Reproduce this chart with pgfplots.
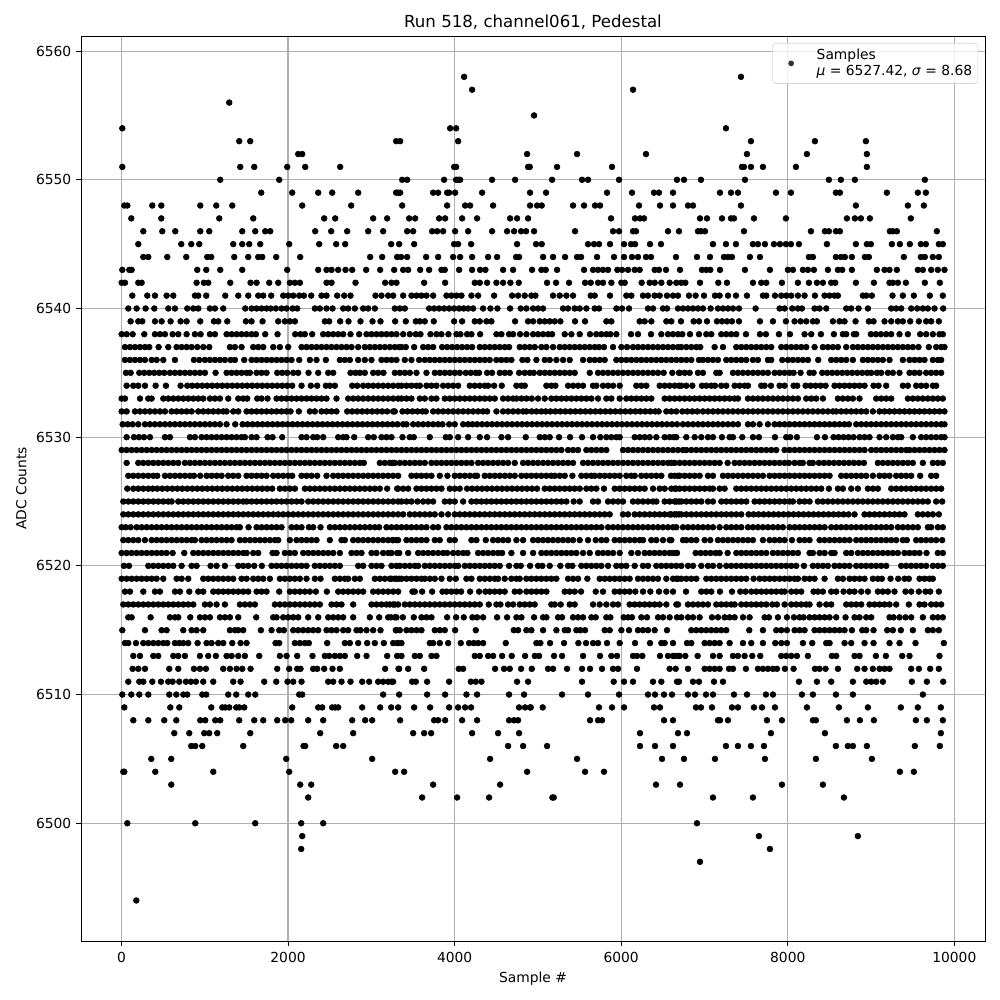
\documentclass[border=0pt]{standalone}
\usepackage{pgfplots}
\pgfplotsset{compat=1.18}
\usepackage{fontspec}
\setmainfont{DejaVu Sans}
\pgfplotsset{table/header=false,table/x index=0,
 r/.style={only marks,mark=*,mark size=2.1pt,mark options={fill=black,draw=none},forget plot}}
\begin{document}
\begin{tikzpicture}
\useasboundingbox (-58.54pt,-42.64pt) rectangle (664.15pt,680.06pt);
\begin{axis}[
 at={(0,0)},anchor=south west,scale only axis,width=653.3pt,height=654pt,
 xmin=-486,xmax=10368,ymin=6490.85,ymax=6561.17,
 xtick={0,2000,4000,6000,8000,10000},ytick={6500,6510,6520,6530,6540,6550,6560},
 scaled x ticks=false,scaled y ticks=false,
 /pgf/number format/assume math mode=true,/pgf/number format/1000 sep={},
 tick label style={font=\fontsize{10}{12}\selectfont},
 xticklabel style={yshift=-1pt},
 tick style={black,line width=0.6pt},major tick length=3.5pt,tick align=outside,tickpos=left,
 axis line style={line width=0.6pt},
 grid=major,grid style={color=black!31,line width=0.8pt},
 title={Run 518, channel061, Pedestal},title style={font=\fontsize{12}{14}\selectfont,yshift=-4.6pt},
 xlabel={Sample \#},ylabel={ADC Counts},
 label style={font=\fontsize{10}{12}\selectfont},
 legend style={at={(1,1)},anchor=north east,xshift=-5pt,yshift=-5pt,draw=black!20,fill=white,fill opacity=0.8,draw opacity=0.8,text opacity=1,rounded corners=2pt,font=\fontsize{10}{12}\selectfont,nodes={align=left},inner sep=2pt},
 legend cell align=left,
 legend image code/.code={\fill[black,draw=none] (0.4cm,0cm) circle (2.1pt);\path[draw=none] (0,0) -- (0.98cm,0);},
]
\addplot[only marks,mark=*,mark size=2.1pt,mark options={fill=black,draw=none}] table[y expr=6494] {
178
};
\addlegendentry{Samples\\\textit{μ} = 6527.42, \textit{σ} = 8.68\rule[-6pt]{0pt}{6pt}}
\addplot[r] table[y expr=6558] {
4114
7438
};
\addplot[r] table[y expr=6557] {
4210
6142
};
\addplot[r] table[y expr=6556] {
1294
};
\addplot[r] table[y expr=6555] {
4954
};
\addplot[r] table[y expr=6554] {
10
3946
4018
7258
};
\addplot[r] table[y expr=6553] {
1414
1546
3298
3346
4042
7558
8326
8938
};
\addplot[r] table[y expr=6552] {
2122
2170
4870
5470
6298
7510
8230
8950
};
\addplot[r] table[y expr=6551] {
10
1426
1594
1990
2206
2626
3994
4018
4882
4902
5230
5890
7450
7474
7558
7702
8098
8950
};
\addplot[r] table[y expr=6550] {
1186
1894
3370
3430
3874
4018
4042
4066
4450
4726
5170
5530
5602
5974
6670
6754
6958
7486
8494
8638
8806
9646
};
\addplot[r] table[y expr=6549] {
1678
2050
2362
2530
2842
3298
3322
3346
3742
3802
3910
3934
4006
4330
4906
5098
5830
6130
6394
6454
6622
7186
7318
7402
7858
8038
8578
8626
9190
9562
9658
};
\addplot[r] table[y expr=6548] {
34
70
370
478
946
1138
1330
2170
2758
3370
3910
4126
4186
4462
4906
4990
5046
5422
5554
5686
5746
6214
6466
6622
6802
6862
7438
8818
9442
9634
};
\addplot[r] table[y expr=6547] {
118
478
1174
1582
2434
2566
3022
3190
3454
3526
3814
3886
4090
4270
4666
4750
4882
5878
6166
6226
6274
6946
7030
7210
7318
7354
7594
7978
8710
8806
8878
8986
9478
};
\addplot[r] table[y expr=6546] {
262
490
646
946
1054
1450
1606
1726
1786
2326
2518
2710
2962
3142
3430
3502
3730
3790
3862
4006
4162
4450
4630
4714
4798
4858
4954
5446
5902
5974
6142
6178
6562
6694
6922
6958
7006
7474
8278
8446
8494
8578
8626
9226
9262
9310
9790
};
\addplot[r] table[y expr=6545] {
202
718
838
934
1342
1450
1534
1666
2014
2374
2578
2686
3238
3334
3514
3994
4042
4198
4750
4978
5046
5602
5674
5734
5866
6034
6118
6166
6346
6478
7102
7258
7378
7582
7642
7726
7834
7906
7978
8038
8134
8470
8818
8950
8998
9250
9346
9466
9598
9658
9814
9862
};
\addplot[r] table[y expr=6544] {
262
322
550
778
1030
1078
1354
1522
1642
1690
1858
2146
2986
3130
3310
3358
3430
3658
3802
3982
4066
4210
4402
4510
4738
4774
5062
5182
5326
5470
5518
5710
5914
6034
6130
6202
6298
6358
6658
6910
7066
7234
7282
7330
7546
7666
8254
8302
8578
8638
8686
8770
8926
8974
9394
9598
9646
9742
9814
};
\addplot[r] table[y expr=6543] {
10
94
122
910
1018
1186
1450
1990
2362
2462
2522
2602
2690
2770
2938
3106
3274
3382
3442
3586
3694
3842
3882
4054
4210
4306
4370
4582
4702
4930
5042
5094
5230
5554
5662
5722
5782
5842
5954
6010
6082
6162
6222
6402
6454
6538
6706
6970
7022
7070
7186
7486
7786
8002
8062
8182
8242
8314
8482
8602
8654
8770
9070
9162
9222
9310
9562
9622
9722
9802
9882
};
\addplot[r] table[y expr=6542] {
2
42
202
242
902
990
1042
1306
1550
1622
1774
1882
2022
2082
2142
2462
2522
2810
3166
3242
3302
3634
3886
4242
4302
4390
4502
4582
4670
4770
5110
5218
5374
5566
5634
5722
5782
5882
6002
6042
6246
6342
6402
6482
6582
6662
6722
6770
6946
7166
7270
7582
7682
7742
7930
8122
8254
8350
8422
8522
8570
8818
9034
9222
9262
9322
9418
9646
9826
};
\addplot[r] table[y expr=6541] {
130
310
402
542
622
882
922
1018
1246
1402
1522
1642
1702
1798
1942
2002
2062
2134
2190
2278
2402
2462
2590
2674
2750
3050
3122
3202
3262
3382
3482
3542
3602
3662
3742
3902
3962
4022
4082
4202
4282
4474
4690
4762
4842
4922
4970
5182
5262
5342
5422
5634
5682
5866
6062
6122
6262
6322
6402
6462
6550
6622
6682
6814
6894
6994
7126
7182
7282
7378
7510
7702
7742
7846
7922
7982
8042
8122
8202
8326
8442
8502
8562
8602
8902
8942
9010
9258
9382
9514
9706
9862
};
\addplot[r] table[y expr=6540] {
82
182
290
394
562
642
790
862
922
1062
1122
1222
1486
1562
1622
1682
1742
1790
1854
1922
1982
2054
2110
2322
2382
2462
2534
2662
2722
2802
2902
2962
3042
3282
3342
3402
3694
3754
3814
3874
3934
3994
4054
4110
4162
4222
4342
4430
4514
4666
4794
4862
4942
5002
5062
5302
5362
5442
5502
5582
5682
5734
5942
6010
6094
6322
6382
6502
6550
6682
6742
6802
6862
6922
6982
7074
7162
7222
7282
7342
7414
7614
7902
7962
8054
8122
8170
8322
8382
8462
8702
8762
8850
8962
9242
9302
9362
9482
9554
9622
9682
9762
9866
};
\addplot[r] table[y expr=6539] {
110
202
250
402
482
590
710
782
946
1110
1162
1270
1494
1562
1694
1882
1962
2022
2082
2442
2494
2626
2726
2870
3014
3110
3286
3414
3534
3582
3642
3750
3994
4090
4242
4302
4382
4442
4726
4882
4942
5022
5082
5142
5202
5270
5446
5566
5822
5882
6222
6282
6362
6542
6602
6718
6870
6934
7030
7150
7210
7270
7330
7414
7666
7822
7978
8082
8154
8222
8302
8350
8542
8622
8682
8814
8974
9030
9162
9242
9322
9382
9470
9574
9662
9722
9814
};
\addplot[r] table[y expr=6538] {
2
62
134
274
402
462
522
614
682
782
882
950
1062
1122
1262
1322
1382
1442
1502
1562
1614
1726
1874
2086
2150
2202
2290
2422
2482
2542
2602
2662
2750
2854
2942
3002
3062
3122
3182
3242
3302
3382
3462
3534
3590
3710
3782
3842
3926
4022
4070
4150
4202
4306
4502
4562
4654
4702
4786
4862
4942
5002
5062
5122
5170
5322
5402
5502
5626
5702
5762
5822
5870
5942
6118
6202
6358
6482
6562
6622
6682
6734
6826
6934
7022
7082
7202
7262
7322
7382
7498
7666
7738
7894
8026
8202
8282
8398
8554
8662
8702
8794
8822
8998
9058
9118
9182
9242
9342
9442
9590
9662
9742
9822
9862
};
\addplot[r] table[y expr=6537] {
42
102
162
222
282
334
446
562
662
722
782
842
910
982
1054
1302
1362
1442
1582
1642
1702
1822
1902
2002
2162
2222
2282
2342
2402
2462
2522
2582
2642
2702
2762
2842
2922
2982
3042
3102
3162
3222
3282
3334
3362
3414
3514
3622
3682
3742
3850
3910
3970
4030
4090
4150
4210
4302
4362
4422
4482
4542
4602
4654
4782
4842
4902
4962
5042
5102
5182
5262
5322
5382
5442
5502
5562
5622
5682
5734
5794
5902
6002
6070
6142
6202
6262
6322
6382
6442
6502
6562
6622
6682
6722
6782
6842
6902
6950
7122
7222
7382
7442
7502
7562
7622
7682
7742
7802
7922
7982
8042
8102
8162
8222
8322
8422
8482
8542
8602
8702
8782
8842
8902
8962
9022
9082
9142
9202
9262
9322
9382
9442
9502
9570
9694
9782
9842
9882
};
\addplot[r] table[y expr=6536] {
42
102
162
222
282
362
422
502
642
870
934
1002
1062
1122
1182
1242
1310
1362
1474
1562
1622
1682
1742
1802
1862
1922
1982
2042
2134
2262
2342
2454
2622
2682
2742
2842
2922
3002
3122
3182
3242
3302
3402
3482
3574
3642
3702
3762
3822
3882
3942
4002
4062
4122
4182
4242
4302
4362
4422
4502
4562
4622
4682
4814
4874
4982
5082
5142
5222
5302
5382
5542
5622
5682
5742
5802
5942
6002
6062
6122
6182
6242
6302
6362
6422
6482
6542
6602
6662
6722
6782
6842
6934
6982
7042
7102
7162
7262
7322
7382
7442
7502
7582
7642
7762
7802
7934
8002
8062
8122
8182
8242
8366
8522
8582
8642
8702
8782
8902
8962
9022
9082
9142
9222
9382
9462
9522
9582
9642
9742
9802
9842
};
\addplot[r] table[y expr=6535] {
54
110
214
274
334
394
454
514
582
642
702
762
822
882
942
1002
1130
1262
1322
1382
1442
1502
1542
1622
1682
1742
1870
1930
1990
2062
2122
2246
2362
2482
2542
2750
2810
2862
2922
3022
3082
3146
3282
3342
3402
3462
3542
3662
3762
3822
3882
3942
4002
4062
4134
4194
4254
4294
4390
4450
4542
4602
4662
4774
4842
4902
4950
5022
5082
5142
5202
5262
5322
5382
5442
5622
5722
5782
5842
5902
5962
6022
6082
6142
6202
6262
6322
6382
6442
6510
6614
6694
6702
6762
6822
6922
6982
7142
7182
7342
7402
7462
7522
7582
7642
7702
7762
7842
7902
7962
8022
8070
8154
8262
8310
8414
8474
8534
8594
8654
8714
8774
8834
8894
8954
9002
9070
9122
9202
9262
9342
9462
9522
9582
9662
9722
9782
9842
};
\addplot[r] table[y expr=6534] {
62
142
202
282
410
534
710
790
850
910
970
1030
1090
1150
1210
1270
1330
1390
1450
1510
1570
1630
1690
1750
1810
1870
1930
1990
2050
2162
2274
2350
2454
2502
2562
2770
2830
2902
2962
3022
3082
3142
3202
3262
3322
3362
3422
3482
3542
3582
3662
3722
3782
3862
3922
3982
4042
4182
4242
4302
4362
4402
4474
4566
4742
4802
4842
5102
5162
5210
5362
5422
5482
5542
5662
5702
5782
5842
5902
5982
6182
6242
6302
6462
6522
6582
6642
6694
6722
6782
6854
6970
7022
7082
7126
7202
7262
7362
7422
7482
7522
7682
7722
7798
7902
7962
8070
8114
8214
8274
8334
8394
8454
8562
8622
8682
8742
8802
8862
8922
9030
9090
9182
9382
9442
9542
9602
9662
9742
9782
};
\addplot[r] table[y expr=6533] {
2
42
222
322
362
502
562
622
682
742
802
862
922
982
1062
1122
1182
1282
1402
1462
1510
1630
1682
1754
1862
1922
1982
2042
2102
2162
2222
2282
2342
2402
2462
2582
2722
2782
2842
2902
2962
3022
3082
3142
3202
3262
3322
3362
3422
3482
3582
3642
3722
3782
3882
3942
4002
4062
4122
4182
4242
4302
4362
4422
4482
4582
4642
4702
4742
4802
4862
4926
5002
5082
5162
5222
5282
5342
5402
5462
5522
5582
5642
5722
5822
5882
5982
6062
6122
6182
6242
6302
6362
6522
6582
6642
6702
6762
6822
6882
6942
7002
7062
7122
7182
7242
7302
7362
7402
7522
7582
7642
7702
7762
7822
7882
7942
8002
8062
8122
8222
8282
8342
8422
8602
8662
8722
8782
8862
9062
9122
9182
9242
9442
9502
9562
9622
9682
9742
9802
9862
};
\addplot[r] table[y expr=6532] {
2
62
162
222
282
342
402
462
522
602
662
722
782
842
922
982
1042
1102
1162
1222
1262
1342
1402
1502
1562
1622
1682
1742
1802
1862
1922
1982
2030
2130
2262
2322
2402
2462
2522
2582
2710
2770
2830
2890
2950
3010
3070
3130
3190
3262
3282
3374
3434
3494
3554
3614
3654
3742
3802
3862
3922
3982
4042
4102
4162
4222
4282
4342
4390
4502
4582
4642
4702
4762
4822
4862
4926
4982
5042
5094
5150
5210
5270
5330
5390
5450
5510
5570
5630
5690
5750
5810
5870
5930
5990
6050
6110
6170
6230
6290
6350
6410
6450
6542
6602
6662
6734
6794
6854
6914
6982
7042
7102
7162
7222
7282
7342
7402
7462
7522
7582
7642
7702
7762
7822
7882
7942
8002
8062
8122
8182
8242
8302
8362
8422
8482
8542
8582
8642
8702
8762
8822
8882
8942
9022
9102
9162
9222
9282
9342
9402
9462
9522
9582
9642
9702
9762
9822
9882
};
\addplot[r] table[y expr=6531] {
14
74
134
202
282
342
402
462
522
582
642
702
762
822
882
942
1002
1062
1122
1182
1262
1366
1454
1514
1574
1634
1694
1754
1814
1874
1934
1994
2054
2114
2174
2234
2294
2354
2414
2474
2534
2594
2654
2714
2774
2834
2894
2954
3014
3074
3134
3194
3254
3314
3382
3422
3502
3562
3622
3682
3742
3802
3854
3934
4002
4102
4162
4214
4270
4330
4390
4450
4510
4570
4630
4690
4750
4810
4870
4930
4990
5050
5110
5170
5230
5290
5350
5410
5470
5530
5590
5650
5710
5770
5830
5890
5950
6010
6070
6130
6190
6250
6310
6370
6430
6490
6550
6610
6670
6742
6802
6862
6922
6982
7042
7102
7162
7222
7282
7342
7402
7522
7582
7662
7762
7842
7902
7962
8022
8082
8142
8202
8262
8322
8382
8442
8502
8562
8622
8682
8734
8822
8882
8942
9002
9062
9122
9182
9242
9302
9362
9422
9482
9542
9602
9662
9722
9782
9842
9882
};
\addplot[r] table[y expr=6530] {
62
150
210
270
342
522
582
822
882
962
1022
1082
1142
1202
1262
1322
1382
1442
1482
1562
1622
1754
1814
1930
2162
2222
2302
2350
2422
2602
2662
2702
2794
2962
3030
3122
3182
3242
3374
3462
3510
3702
3894
3942
4042
4162
4302
4390
4562
4642
4854
5022
5082
5142
5254
5386
5530
5662
5750
5822
5882
5942
5982
6162
6222
6282
6342
6422
6522
6582
6662
6630
6782
6882
6962
7042
7102
7210
7302
7342
7454
7582
7654
7846
7982
8030
8110
8350
8446
8550
8610
8670
8730
8790
8862
8922
8982
9102
9182
9262
9322
9362
9502
9602
9662
9722
9782
9842
9882
};
\addplot[r] table[y expr=6529] {
2
62
122
182
242
302
362
422
482
542
602
662
722
782
842
902
962
1022
1082
1142
1202
1262
1322
1382
1442
1502
1562
1622
1682
1742
1802
1862
1922
1982
2042
2102
2162
2222
2282
2342
2402
2462
2522
2582
2642
2702
2762
2822
2882
2942
3002
3062
3122
3182
3242
3302
3362
3422
3482
3542
3602
3662
3722
3782
3842
3902
3962
4022
4082
4142
4202
4262
4322
4382
4442
4502
4562
4622
4682
4742
4802
4862
4922
4982
5042
5102
5162
5222
5282
5362
5422
5482
5582
5642
5702
5762
5822
6022
6082
6142
6202
6262
6322
6382
6442
6502
6562
6622
6682
6742
6782
6842
6902
6962
7022
7082
7142
7202
7262
7322
7382
7442
7502
7562
7622
7682
7742
7802
7862
7962
8022
8082
8142
8202
8262
8322
8382
8442
8502
8562
8622
8682
8742
8802
8862
8922
9002
9062
9122
9182
9242
9302
9362
9422
9462
9522
9582
9642
9702
9762
9822
9882
};
\addplot[r] table[y expr=6528] {
62
202
262
322
382
442
502
562
622
682
762
822
882
942
1002
1062
1122
1182
1242
1302
1362
1422
1482
1542
1602
1662
1722
1782
1842
1902
1962
2022
2082
2142
2202
2262
2322
2382
2442
2502
2562
2622
2682
2742
2802
2862
2910
3102
3162
3222
3282
3254
3342
3402
3462
3522
3582
3642
3722
3782
3842
3902
3962
4022
4082
4142
4202
4282
4342
4402
4462
4522
4582
4642
4722
4822
4882
4942
5002
5062
5122
5182
5242
5302
5362
5422
5542
5602
5662
5722
5782
5842
5902
5962
6022
6082
6142
6202
6262
6322
6382
6442
6502
6562
6602
6642
6702
6762
6822
6882
6942
7002
7062
7122
7182
7278
7362
7422
7482
7542
7602
7662
7722
7782
7842
7902
7962
8014
8082
8142
8182
8262
8302
8374
8434
8494
8554
8614
8674
8734
8794
8854
8914
9082
9142
9202
9262
9322
9382
9442
9502
9622
9742
9802
9862
};
\addplot[r] table[y expr=6527] {
82
142
202
262
322
382
430
522
582
642
702
762
822
870
946
1022
1082
1142
1202
1282
1342
1402
1502
1562
1622
1682
1742
1822
1882
1942
2002
2050
2162
2222
2282
2350
2462
2542
2602
2662
2722
2782
2842
2902
2962
3022
3082
3142
3202
3262
3322
3482
3542
3602
3662
3722
3822
3914
4002
4062
4122
4182
4242
4270
4362
4422
4482
4542
4602
4662
4722
4802
4862
4922
4982
5042
5102
5162
5202
5262
5322
5414
5522
5582
5642
5682
5742
5802
5862
5922
5982
6062
6122
6162
6242
6302
6362
6422
6482
6598
6682
6642
6702
6762
6822
6882
6942
7042
7102
7222
7282
7342
7402
7462
7522
7582
7642
7702
7782
7842
7902
7962
8022
8082
8142
8202
8262
8322
8382
8442
8502
8642
8702
8762
8822
8882
8942
9022
9102
9162
9222
9302
9362
9422
9482
9590
9722
9782
};
\addplot[r] table[y expr=6526] {
70
142
202
262
322
374
430
490
550
610
670
730
790
850
910
970
1030
1090
1150
1210
1270
1330
1390
1450
1510
1570
1630
1690
1750
1810
1902
1962
2022
2082
2202
2262
2322
2382
2442
2502
2562
2622
2682
2742
2802
2862
2922
2982
3042
3102
3190
3310
3322
3382
3442
3542
3602
3662
3722
3782
3842
3942
4002
4062
4150
4210
4270
4330
4390
4450
4510
4570
4630
4690
4750
4810
4870
4930
4990
5082
5142
5202
5262
5322
5382
5442
5502
5582
5642
5702
5794
5922
5982
6042
6102
6162
6222
6282
6382
6462
6522
6602
6662
6642
6702
6762
6822
6882
6942
7002
7062
7102
7182
7242
7382
7442
7502
7562
7622
7682
7742
7802
7862
7922
7982
8042
8102
8162
8222
8282
8342
8402
8494
8602
8662
8762
8842
8962
9022
9082
9242
9302
9362
9422
9482
9542
9602
9662
9722
9782
9842
};
\addplot[r] table[y expr=6525] {
22
82
142
202
262
322
382
442
502
562
602
682
742
802
862
922
982
1042
1102
1162
1222
1282
1342
1402
1462
1502
1562
1622
1682
1742
1802
1862
1922
1982
2042
2102
2162
2242
2302
2362
2422
2482
2542
2602
2662
2722
2782
2842
2902
2962
3022
3082
3142
3202
3262
3322
3362
3422
3482
3554
3622
3682
3742
3882
3942
4002
4102
4202
4262
4322
4382
4442
4502
4562
4622
4682
4742
4802
4862
4922
4982
5042
5102
5162
5222
5282
5342
5430
5502
5662
5722
5842
5902
5962
6022
6142
6202
6262
6322
6382
6422
6522
6582
6642
6694
6662
6722
6782
6842
6902
6962
7042
7102
7202
7262
7322
7382
7442
7502
7602
7662
7722
7782
7842
7902
7962
8022
8062
8142
8202
8262
8362
8422
8482
8542
8602
8662
8722
8782
8842
8902
8962
9022
9082
9142
9202
9262
9322
9382
9442
9502
9562
9622
9682
9782
9854
};
\addplot[r] table[y expr=6524] {
22
82
142
202
262
322
382
442
502
562
622
682
742
802
862
922
982
1042
1102
1162
1222
1282
1342
1402
1462
1522
1582
1642
1702
1762
1822
1882
1942
2002
2062
2122
2182
2242
2302
2362
2422
2482
2542
2602
2662
2722
2782
2842
2902
2962
3022
3082
3142
3202
3262
3322
3382
3462
3522
3582
3642
3702
3762
3842
3922
4002
4062
4122
4182
4242
4302
4362
4422
4482
4542
4602
4662
4722
4782
4842
4902
4962
5022
5082
5142
5202
5262
5322
5382
5442
5502
5562
5622
5682
5742
5802
5862
6022
6082
6162
6222
6282
6342
6402
6462
6522
6582
6642
6694
6602
6662
6722
6782
6842
6902
6962
7022
7082
7142
7202
7262
7322
7382
7442
7530
7590
7650
7710
7770
7830
7890
7950
8010
8070
8130
8190
8250
8310
8370
8430
8490
8550
8610
8670
8730
8802
8922
8982
9042
9102
9162
9222
9282
9342
9402
9562
9622
9682
9742
9814
};
\addplot[r] table[y expr=6523] {
2
50
110
182
242
302
362
422
482
542
602
662
722
782
842
902
962
1022
1082
1142
1202
1262
1322
1382
1422
1526
1622
1682
1742
1802
1862
1922
2042
2102
2162
2250
2302
2390
2502
2562
2622
2682
2742
2802
2862
2922
2982
3042
3094
3182
3242
3302
3362
3422
3482
3542
3602
3662
3742
3802
3902
3962
4022
4082
4142
4202
4262
4322
4382
4442
4502
4562
4622
4682
4742
4802
4862
4922
4982
5042
5102
5162
5222
5282
5342
5402
5462
5522
5582
5642
5702
5762
5842
5902
5962
6022
6082
6142
6202
6262
6322
6382
6442
6502
6562
6622
6662
6742
6802
6862
6922
6982
7042
7102
7182
7262
7322
7382
7442
7522
7582
7642
7702
7762
7822
7882
7942
8022
8082
8142
8202
8262
8322
8382
8442
8522
8582
8642
8702
8762
8822
8882
8942
9002
9062
9122
9182
9242
9322
9382
9442
9502
9562
9682
9722
9802
9862
};
\addplot[r] table[y expr=6522] {
22
82
142
202
282
362
422
482
542
602
662
722
782
842
882
962
1022
1082
1142
1202
1262
1322
1422
1482
1542
1602
1662
1722
1782
1842
1882
2022
2102
2162
2222
2282
2342
2502
2642
2682
2782
2842
2902
2962
3022
3082
3142
3202
3262
3322
3254
3302
3422
3482
3542
3602
3662
3762
3822
3942
4002
4202
4262
4374
4462
4522
4582
4642
4742
4822
4942
5002
5062
5122
5182
5242
5302
5362
5422
5502
5602
5694
5762
5822
5922
5982
6042
6102
6162
6222
6262
6362
6422
6502
6582
6602
6742
6782
6842
6902
7002
7070
7162
7222
7282
7342
7402
7462
7522
7582
7702
7782
7842
7902
7962
8050
8142
8202
8262
8382
8442
8502
8562
8622
8682
8742
8822
8882
8942
9002
9062
9122
9182
9242
9302
9382
9430
9542
9602
9662
9722
9782
9854
};
\addplot[r] table[y expr=6521] {
2
62
122
182
242
302
362
422
482
542
614
754
862
922
982
1042
1102
1162
1222
1282
1342
1402
1462
1502
1582
1642
1814
1862
1962
2022
2082
2182
2242
2302
2362
2422
2482
2542
2622
2762
2822
2882
3002
3062
3142
3202
3310
3242
3334
3442
3562
3622
3682
3742
3802
3862
3910
3982
4042
4102
4154
4282
4342
4402
4462
4522
4570
4682
4822
4942
5042
5102
5162
5222
5282
5342
5402
5462
5542
5622
5722
5782
5842
5902
5982
6122
6202
6282
6342
6402
6462
6522
6582
6662
6622
6670
6894
6954
7014
7074
7134
7182
7278
7382
7442
7502
7562
7622
7682
7742
7822
7882
7942
8002
8062
8122
8262
8302
8382
8442
8522
8562
8702
8762
8842
8902
8962
9022
9082
9142
9202
9262
9322
9402
9462
9522
9582
9666
9802
9862
};
\addplot[r] table[y expr=6520] {
30
90
322
382
442
502
562
622
722
842
902
1070
1142
1242
1402
1462
1522
1594
1686
1802
1862
1922
1982
2042
2102
2162
2222
2322
2382
2442
2502
2562
2622
2842
2902
3002
3062
3122
3242
3302
3342
3402
3462
3522
3562
3642
3702
3762
3822
3882
3942
4002
4042
4122
4182
4242
4302
4362
4422
4482
4542
4654
4742
4794
4906
5002
5054
5142
5270
5362
5414
5522
5582
5642
5702
5762
5842
5942
6002
6062
6162
6262
6322
6422
6482
6542
6602
6662
6722
6802
6862
6962
7042
7102
7182
7262
7322
7382
7442
7502
7562
7622
7682
7742
7802
7862
7922
7982
8042
8102
8194
8302
8362
8422
8482
8562
8622
8682
8742
8822
8882
8942
9002
9062
9122
9182
9362
9422
9482
9542
9602
9662
9742
9802
9862
};
\addplot[r] table[y expr=6519] {
2
62
122
182
242
302
362
422
502
662
722
802
982
1042
1102
1162
1222
1282
1342
1442
1502
1582
1642
1702
1782
1902
1962
2022
2082
2142
2222
2322
2390
2562
2622
2682
2722
2802
2862
3042
3102
3162
3222
3282
3334
3242
3302
3362
3422
3482
3542
3602
3642
3702
3762
3842
3942
4014
4142
4202
4302
4362
4422
4482
4522
4602
4682
4742
4782
4862
4922
4982
5042
5102
5162
5222
5362
5422
5482
5594
5742
5802
5862
5922
5982
6042
6102
6202
6262
6322
6382
6442
6542
6622
6682
6662
6722
6782
6842
6902
7022
7082
7142
7202
7262
7322
7382
7442
7502
7590
7662
7722
7782
7842
7902
7962
8022
8082
8122
8202
8262
8322
8442
8602
8662
8742
8802
8862
8922
9022
9082
9130
9234
9326
9402
9454
9582
9642
9702
9742
};
\addplot[r] table[y expr=6518] {
42
102
262
402
462
642
702
814
922
982
1102
1162
1222
1282
1342
1402
1462
1522
1622
1682
1742
1894
2022
2082
2142
2202
2262
2334
2466
2602
2662
2722
2782
2842
2902
3022
3082
3142
3202
3262
3322
3494
3522
3610
3730
3854
3902
3962
4022
4078
4186
4294
4370
4422
4482
4542
4602
4722
4782
4862
4922
4982
5042
5102
5322
5382
5442
5518
5694
5782
5922
5982
6042
6102
6170
6262
6350
6454
6542
6622
6778
6962
7022
7082
7186
7330
7430
7494
7562
7622
7682
7742
7802
7862
7922
7962
8042
8102
8162
8310
8362
8422
8522
8582
8670
8742
8802
8882
8962
9082
9142
9202
9282
9414
9482
9574
9654
9710
9814
};
\addplot[r] table[y expr=6517] {
22
82
142
202
262
322
382
442
502
562
622
682
742
802
862
1002
1062
1142
1242
1422
1482
1542
1602
1842
1902
1962
2022
2082
2142
2202
2262
2322
2382
2522
2582
2642
2782
3002
3062
3122
3182
3262
3322
3222
3282
3402
3462
3522
3582
3642
3702
3762
3822
3882
3942
4002
4062
4122
4182
4242
4302
4410
4502
4550
4642
4702
4782
4842
4902
4962
5162
5202
5274
5382
5442
5662
5742
5822
5902
5962
6102
6162
6222
6282
6342
6402
6462
6542
6662
6682
6802
6862
6922
6982
7042
7142
7202
7262
7322
7362
7442
7502
7562
7622
7682
7742
7814
7870
7962
8042
8102
8162
8222
8262
8382
8462
8522
8702
8762
8822
8882
8982
9042
9102
9162
9222
9302
9454
9582
9642
9722
9782
9842
};
\addplot[r] table[y expr=6516] {
82
122
350
582
642
682
826
942
1002
1062
1182
1242
1302
1402
1618
1822
1862
1942
2002
2062
2122
2242
2362
2482
2542
2602
2662
2782
2982
3094
3202
3302
3234
3282
3378
3510
3602
3662
3722
3910
4018
4110
4214
4270
4342
4510
4630
4742
4802
4954
5062
5102
5242
5290
5422
5482
5542
5642
5694
5822
5870
6030
6082
6130
6242
6310
6442
6502
6582
6670
6722
6802
6862
6942
7090
7162
7242
7302
7362
7462
7542
7722
7774
7882
7990
8074
8142
8190
8262
8322
8382
8442
8502
8582
8694
8802
8862
8942
9002
9222
9270
9342
9414
9482
9622
9742
9802
9862
};
\addplot[r] table[y expr=6515] {
10
282
482
542
742
842
902
982
1302
1362
1402
1462
1674
1802
1894
1950
2062
2122
2182
2242
2302
2362
2462
2522
2582
2662
2722
2822
2870
2942
3022
3110
3302
3294
3342
3422
3482
3542
3602
3762
3822
3882
4006
4254
4710
4762
4862
4922
5062
5222
5322
5362
5462
5510
5566
5802
5862
6002
6094
6202
6262
6322
6402
6550
6842
6902
6962
7022
7082
7142
7202
7262
7538
7702
7862
7922
7990
8082
8142
8202
8322
8382
8442
8502
8562
8622
8682
8770
8894
8942
9030
9194
9262
9358
9502
9682
9742
9814
};
\addplot[r] table[y expr=6514] {
42
82
174
262
322
382
442
502
550
642
694
742
802
914
1022
1082
1162
1222
1330
1430
1502
1850
1894
2082
2142
2202
2250
2470
2682
2742
2842
2950
3042
3150
3262
3322
3310
3362
3702
3742
3822
3922
4074
4174
4230
4282
4342
4614
4982
5030
5146
5314
5486
5578
5662
5722
5830
5982
6166
6346
6482
6522
6622
6790
6842
7002
7062
7122
7182
7302
7462
7562
7702
7850
7922
7990
8182
8294
8462
8502
8682
8762
8922
9030
9222
9342
9534
9874
};
\addplot[r] table[y expr=6513] {
142
222
382
442
622
682
762
942
1042
1134
1262
1322
1402
1482
1654
1902
1982
2110
2294
2442
2494
2562
2622
2682
2830
2942
3190
3310
3362
3522
3582
3722
3782
4242
4302
4402
4462
4570
4686
4846
4962
5014
5194
5290
5542
5746
5882
5950
6142
6190
6254
6466
6562
6622
6682
6642
6702
6770
6918
7102
7182
7342
7402
7482
7574
7670
7922
7982
8042
8110
8242
8530
8582
8802
8862
9058
9178
9374
9462
9822
};
\addplot[r] table[y expr=6512] {
134
202
282
574
682
870
942
1014
1222
1302
1382
1450
1550
1870
2014
2110
2150
2302
2350
2434
2534
2622
3166
3326
3334
3442
3634
4050
4102
4486
4594
4662
4798
4926
5122
5182
5350
5530
5626
5770
5902
5962
6190
6582
6654
6802
7002
7062
7122
7182
7294
7342
7498
7642
7702
7762
7822
7870
7966
8070
8326
8382
8454
8602
8834
8922
9022
9102
9162
9222
9482
9574
9710
9814
};
\addplot[r] table[y expr=6511] {
82
214
262
370
474
562
614
694
774
834
894
982
1102
1342
1430
1714
1858
1994
2062
2162
2482
2542
2642
2750
2890
2974
3082
3142
3202
3262
3242
3490
3534
3670
3934
4194
4254
4322
4750
4882
5530
5910
6034
6142
6382
6482
6670
6694
6862
6934
7114
7222
8134
8350
8522
8782
8942
9002
9062
9142
9490
9670
9866
};
\addplot[r] table[y expr=6510] {
10
118
214
322
574
658
742
790
970
1018
1282
1378
1522
1606
2134
2170
3142
3334
3670
3886
4142
4270
4654
4834
5290
5602
5974
6322
6406
6514
6610
6802
6886
7018
7102
7354
7510
7738
7822
8170
8302
8578
8782
9622
};
\addplot[r] table[y expr=6509] {
34
586
694
1078
1210
1246
1294
1378
1414
1474
2050
2362
2410
2530
2566
2602
2890
3106
3238
3322
3514
3706
3934
4042
4126
4198
4774
4846
4906
4914
5058
5734
5890
6034
6394
6466
6898
6958
7090
7330
7402
7594
7690
7846
8230
8614
8962
9358
9562
9838
};
\addplot[r] table[y expr=6508] {
142
322
514
658
946
1006
1126
1186
1414
1594
1702
1870
1966
2038
2242
2422
2770
2926
3010
3346
3754
3802
3886
4090
4270
4654
4714
4762
5626
5722
5770
6514
6622
7162
7186
7282
7750
7930
8302
8338
8710
8866
9034
9538
9670
9862
};
\addplot[r] table[y expr=6507] {
634
814
994
1054
1150
1546
2386
2782
3502
3634
3718
4210
4522
4774
6226
6682
6790
7798
8446
9838
};
\addplot[r] table[y expr=6506] {
838
886
970
1462
2186
2206
2578
2662
4642
4822
5110
6226
6406
6622
7258
7402
7558
7714
8578
8722
8782
8950
9526
9826
};
\addplot[r] table[y expr=6505] {
358
598
1978
3010
4426
5470
6490
6754
7126
7726
8338
9010
};
\addplot[r] table[y expr=6504] {
22
34
406
1102
2014
3286
3394
4870
5566
5794
9346
9514
};
\addplot[r] table[y expr=6503] {
598
2146
2278
3742
4546
6418
6706
7930
8422
};
\addplot[r] table[y expr=6502] {
2242
3610
4030
4414
5174
5190
7102
7582
8674
};
\addplot[r] table[y expr=6500] {
70
886
1606
2158
2422
6910
};
\addplot[r] table[y expr=6499] {
2170
7654
8842
};
\addplot[r] table[y expr=6498] {
2158
7786
};
\addplot[r] table[y expr=6497] {
6946
};
\end{axis}
\end{tikzpicture}
\end{document}
